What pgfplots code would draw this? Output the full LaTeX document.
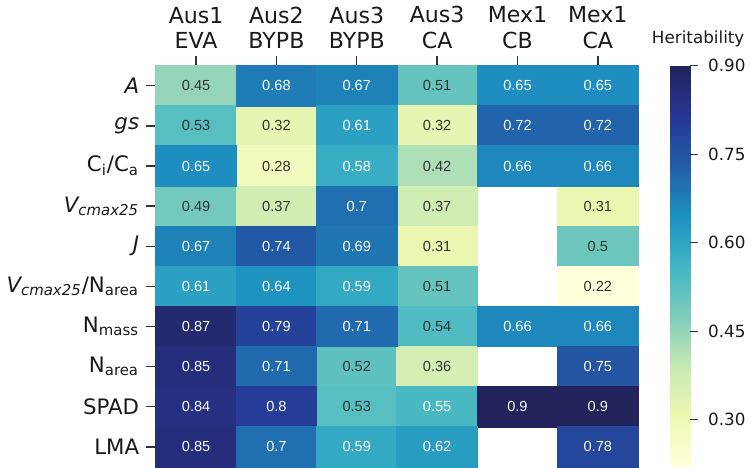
\documentclass[border=0pt]{standalone}
\usepackage{fontspec}
\setmainfont{DejaVu Sans}
\newfontfamily\valfont{Liberation Sans}
\usepackage{pgfplots}
\pgfplotsset{compat=1.18}
\usepackage{pgfplotstable}

\pgfplotstableread{
x y v
0 0 0.45
3 0 0.51
0 1 0.53
1 1 0.32
3 1 0.32
1 2 0.28
3 2 0.42
0 3 0.49
1 3 0.37
3 3 0.37
5 3 0.31
3 4 0.31
5 4 0.50
3 5 0.51
5 5 0.22
3 6 0.54
2 7 0.52
3 7 0.36
2 8 0.53
}\darkcells

\pgfplotstableread{
x y v
1 0 0.68
2 0 0.67
4 0 0.65
5 0 0.65
2 1 0.61
4 1 0.72
5 1 0.72
0 2 0.65
2 2 0.58
4 2 0.66
5 2 0.66
2 3 0.70
0 4 0.67
1 4 0.74
2 4 0.69
0 5 0.61
1 5 0.64
2 5 0.59
0 6 0.87
1 6 0.79
2 6 0.71
4 6 0.66
5 6 0.66
0 7 0.85
1 7 0.71
5 7 0.75
0 8 0.84
1 8 0.80
3 8 0.55
4 8 0.90
5 8 0.90
0 9 0.85
1 9 0.70
2 9 0.59
3 9 0.62
5 9 0.78
}\lightcells

\begin{document}
\begin{tikzpicture}
\begin{axis}[
  width=244.5pt, height=203.5pt, scale only axis,
  xmin=-0.5, xmax=5.5, ymin=-0.5, ymax=9.5, y dir=reverse,
  xtick={0,1,2,3,4,5}, ytick={0,1,2,3,4,5,6,7,8,9},
  xticklabels={{Aus1\\EVA},{Aus2\\BYPB},{Aus3\\BYPB},{Aus3\\CA},{Mex1\\CB},{Mex1\\CA}},
  yticklabels={{\textit{A}},{\textit{gs}},{C\textsubscript{i}/C\textsubscript{a}},{\textit{V\textsubscript{cmax25}}},{\textit{J}},{\textit{V\textsubscript{cmax25}}/N\textsubscript{area}},{N\textsubscript{mass}},{N\textsubscript{area}},{SPAD},{LMA}},
  xtick pos=right, xticklabel pos=right, ytick pos=left,
  xticklabel style={align=center, font=\fontsize{11.2}{13}\selectfont, text=black!90},
  yticklabel style={font=\fontsize{10.8}{12.5}\selectfont, text=black!90},
  tick align=outside, major tick length=5pt,
  tick style={black!80, line width=0.7pt},
  axis line style={draw=none},
  colormap={ylgnbu}{rgb255=(255,255,217) rgb255=(237,248,177) rgb255=(199,233,180) rgb255=(127,205,187) rgb255=(65,182,196) rgb255=(29,145,192) rgb255=(34,94,168) rgb255=(38,54,148) rgb255=(33,35,90)},
  point meta min=0.22, point meta max=0.90,
  colorbar,
  colorbar style={
    width=10pt,
    at={(parent axis.north east)}, anchor=north west, xshift=8pt,
    ytick={0.30,0.45,0.60,0.75,0.90},
    ytick pos=right, yticklabel pos=right,
    yticklabel style={/pgf/number format/.cd, fixed, fixed zerofill, precision=2, assume math mode=true, /tikz/.cd, font=\fontsize{8.5}{10.5}\selectfont, text=black!90, xshift=1.5pt},
    axis line style={draw=none},
    tick align=outside, major tick length=4pt,
    tick style={black!80, line width=0.7pt},
    title={\fontsize{8.5}{10.5}\selectfont Heritability},
    title style={xshift=9pt, text=black!90},
  },
]
\addplot[scatter, only marks, mark=square*, mark size=10.25pt,
  mark options={xscale=2},
  scatter/use mapped color={draw=mapped color, fill=mapped color},
  point meta=\thisrow{v}]
  table[x=x, y=y] {\darkcells};
\addplot[scatter, only marks, mark=square*, mark size=10.25pt,
  mark options={xscale=2},
  scatter/use mapped color={draw=mapped color, fill=mapped color},
  point meta=\thisrow{v}]
  table[x=x, y=y] {\lightcells};
\addplot[only marks, mark=none, point meta=\thisrow{v},
  nodes near coords={\pgfmathprintnumber[assume math mode=true]{\pgfplotspointmeta}},
  nodes near coords style={anchor=center, font=\valfont\fontsize{7.4}{9}\selectfont, text=black!80}]
  table[x=x, y=y] {\darkcells};
\addplot[only marks, mark=none, point meta=\thisrow{v},
  nodes near coords={\pgfmathprintnumber[assume math mode=true]{\pgfplotspointmeta}},
  nodes near coords style={anchor=center, font=\valfont\fontsize{7.4}{9}\selectfont, text=white}]
  table[x=x, y=y] {\lightcells};
\end{axis}
\end{tikzpicture}
\end{document}
